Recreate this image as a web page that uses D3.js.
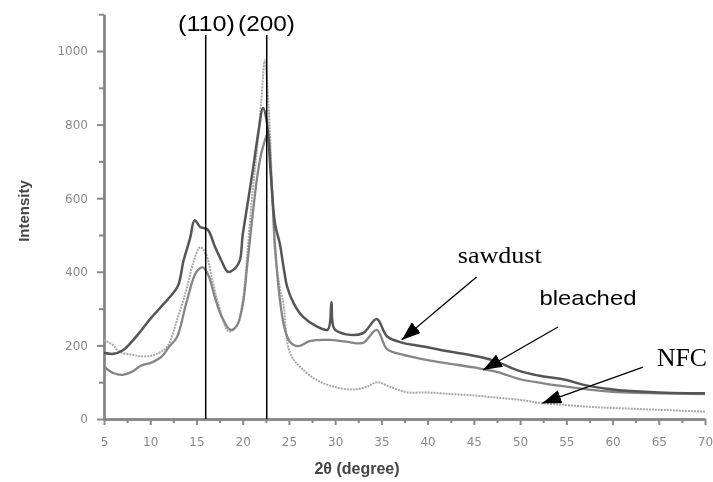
<!DOCTYPE html>
<html>
<head>
<meta charset="utf-8">
<script src="https://cdn.jsdelivr.net/npm/d3@7"></script>
<style>
  body { margin: 0; background: #fff; }
  svg { display: block; }
</style>
</head>
<body>
<div id="chart"></div>
<script>
// XRD patterns: [2theta, intensity]
const sawdust = [
  [5,180],[6,177],[7,186],[8,210],[9,240],[10,272],[11,300],[12,328],[13,362],[13.6,430],
  [14.3,490],[14.8,540],[15.4,522],[16.2,515],[17,468],[17.7,430],[18.4,400],[19.2,410],[19.7,432],
  [20,500],[20.5,580],[21.1,677],[21.7,780],[22.2,845],[22.6,810],[23,680],[23.5,530],[24,478],
  [24.5,400],[24.8,360],[25.5,315],[26.5,278],[28,252],[29.2,243],[29.6,318],[29.9,245],[31.2,230],
  [33,233],[34.5,272],[35.6,225],[37.3,207],[38.8,200],[40,195],[42,185],[45,172],[47,160],
  [50,130],[52,118],[55,106],[57,92],[60,80],[62,76],[65,72],[68,70],[70,70]
];
const bleached = [
  [5,142],[6,125],[7,120],[8,128],[9,145],[10,152],[11,165],[11.4,174],[12,195],[12.9,223],
  [13.9,315],[15,400],[15.7,412],[16.3,390],[17,330],[17.7,280],[18.7,242],[19.4,255],[20,310],
  [20.5,420],[21.1,560],[21.7,680],[22.2,740],[22.7,775],[23.1,650],[23.5,470],[24,330],[24.5,250],
  [25.1,210],[26,198],[27.3,212],[29.4,215],[31.2,210],[33,207],[34.5,242],[35.6,190],[37.3,175],
  [38.8,166],[40,160],[42.5,150],[45,140],[47.5,128],[50,108],[52.5,97],[55,88],[57.5,80],
  [60,74],[65,70],[70,68]
];
const nfc = [
  [5,215],[6,200],[6.7,182],[8,175],[9.2,170],[10.5,175],[11.8,196],[12.9,269],[13.9,350],
  [14.6,420],[15.4,467],[16,450],[16.7,380],[17.5,300],[18.5,238],[19.3,250],[20,320],[20.5,450],
  [21,600],[21.5,720],[22,860],[22.4,975],[22.8,850],[23.2,620],[23.5,450],[24,360],[24.4,315],
  [25.1,180],[26.2,142],[28,106],[29.8,88],[31.9,80],[33.5,88],[34.5,100],[35.9,88],[37.7,73],
  [40,72],[42.5,68],[45,64],[47.5,58],[50,52],[52.4,43],[55,38],[57.5,33],[60,30],[65,25],[70,20]
];

const xMajor = [5,10,15,20,25,30,35,40,45,50,55,60,65,70];
const xMinor = [7.5,12.5,17.5,22.5,27.5,32.5,37.5,42.5,47.5,52.5,57.5,62.5,67.5];
const yMajor = [0,200,400,600,800,1000];
const yMinor = [100,300,500,700,900,1100];

// reflection lines
const peakLabels = ["(110)", "(200)"];
const peakPositions = [16.0, 22.6];

// arrows: label, tail [x,y], tip [x,y] in data units
const arrowLabels = ["sawdust", "bleached", "NFC"];
const arrowTails = [[45.3,386],[54.1,250],[63.3,141]];
const arrowTips = [[37.2,215],[46.0,133],[52.4,43]];
const labelPoints = [[47.8,424],[52.1,310],[64.8,144]];

const width = 713, height = 482;

const svg = d3.select("#chart").append("svg")
    .attr("width", width)
    .attr("height", height);

const defs = svg.append("defs");
defs.append("filter").attr("id", "soft")
    .append("feGaussianBlur").attr("stdDeviation", 0.7);
defs.append("marker")
    .attr("id", "head")
    .attr("markerUnits", "userSpaceOnUse")
    .attr("viewBox", "0 -7 19 14")
    .attr("markerWidth", 19)
    .attr("markerHeight", 14)
    .attr("refX", 19)
    .attr("refY", 0)
    .attr("orient", "auto")
    .append("path")
    .attr("d", "M0,-7L19,0L0,7Z")
    .attr("fill", "#000");

const x = d3.scaleLinear().domain([5, 70]).range([104, 705]);
const y = d3.scaleLinear().domain([0, 1100]).range([419, 14.2]);

// blurry scanned part of the figure
const plot = svg.append("g").attr("filter", "url(#soft)");

function styleAxis(g) {
    g.select(".domain").attr("stroke", "#888").attr("stroke-width", 2.4);
    g.selectAll(".tick line").attr("stroke", "#888").attr("stroke-width", 2);
    g.selectAll(".tick text")
        .attr("fill", "#8a8a8a")
        .style("font-family", "DejaVu Sans")
        .style("font-size", "12px");
}

plot.append("g")
    .attr("transform", "translate(0,419)")
    .call(d3.axisBottom(x).tickValues(xMinor).tickFormat("").tickSize(4).tickSizeOuter(0))
    .call(styleAxis);
plot.append("g")
    .attr("transform", "translate(0,419)")
    .call(d3.axisBottom(x).tickValues(xMajor).tickFormat(d3.format("d")).tickSize(6).tickPadding(12).tickSizeOuter(0))
    .call(styleAxis);

plot.append("g")
    .attr("transform", "translate(104,0)")
    .call(d3.axisLeft(y).tickValues(yMinor).tickFormat("").tickSize(5).tickSizeOuter(0))
    .call(styleAxis);
plot.append("g")
    .attr("transform", "translate(104,0)")
    .call(d3.axisLeft(y).tickValues(yMajor).tickFormat(d3.format("d")).tickSize(7).tickPadding(9).tickSizeOuter(0))
    .call(styleAxis);

plot.append("text")
    .attr("transform", "translate(29,211) rotate(-90)")
    .attr("text-anchor", "middle")
    .attr("fill", "#444")
    .style("font-family", "Liberation Sans")
    .style("font-weight", "bold")
    .style("font-size", "15px")
    .text("Intensity");

plot.append("text")
    .attr("x", 357)
    .attr("y", 474)
    .attr("text-anchor", "middle")
    .attr("fill", "#444")
    .style("font-family", "Liberation Sans")
    .style("font-weight", "bold")
    .style("font-size", "16px")
    .text("2θ (degree)");

const line = d3.line()
    .x(d => x(d[0]))
    .y(d => y(d[1]))
    .curve(d3.curveCatmullRom.alpha(0.5));

plot.append("path").datum(nfc)
    .attr("d", line).attr("fill", "none")
    .attr("stroke", "#a8a8a8").attr("stroke-width", 2)
    .attr("stroke-dasharray", "2,1");
plot.append("path").datum(bleached)
    .attr("d", line).attr("fill", "none")
    .attr("stroke", "#858585").attr("stroke-width", 2.3);
plot.append("path").datum(sawdust)
    .attr("d", line).attr("fill", "none")
    .attr("stroke", "#555").attr("stroke-width", 2.5);

// crisp annotations on top
svg.selectAll(".peak")
    .data(peakPositions)
    .enter()
    .append("line")
    .attr("class", "peak")
    .attr("x1", d => x(d)).attr("x2", d => x(d))
    .attr("y1", 35).attr("y2", y(0))
    .attr("stroke", "#000").attr("stroke-width", 1.5);

svg.selectAll(".peak-label")
    .data(peakLabels)
    .enter()
    .append("text")
    .attr("class", "peak-label")
    .attr("x", (d, i) => i === 0 ? 178 : 238)
    .attr("y", 31)
    .attr("textLength", 57)
    .attr("lengthAdjust", "spacingAndGlyphs")
    .style("font-family", "Liberation Sans")
    .style("font-size", "22px")
    .attr("fill", "#000")
    .text(d => d);

svg.selectAll(".arrow")
    .data(arrowLabels)
    .enter()
    .append("line")
    .attr("class", "arrow")
    .attr("x1", (d, i) => x(arrowTails[i][0]))
    .attr("y1", (d, i) => y(arrowTails[i][1]))
    .attr("x2", (d, i) => x(arrowTips[i][0]))
    .attr("y2", (d, i) => y(arrowTips[i][1]))
    .attr("stroke", "#000")
    .attr("stroke-width", 1.3)
    .attr("marker-end", "url(#head)");

const labelFonts = ["Liberation Serif", "Liberation Sans", "Liberation Serif"];
const labelSizes = [24, 21, 25];
const labelLengths = [84, 97, 50];
svg.selectAll(".arrow-label")
    .data(arrowLabels)
    .enter()
    .append("text")
    .attr("class", "arrow-label")
    .attr("x", (d, i) => x(labelPoints[i][0]))
    .attr("y", (d, i) => y(labelPoints[i][1]))
    .attr("text-anchor", (d, i) => i === 0 ? "middle" : "start")
    .attr("textLength", (d, i) => labelLengths[i])
    .attr("lengthAdjust", "spacingAndGlyphs")
    .style("font-family", (d, i) => labelFonts[i])
    .style("font-size", (d, i) => labelSizes[i] + "px")
    .attr("fill", "#000")
    .text(d => d);
</script>
</body>
</html>
